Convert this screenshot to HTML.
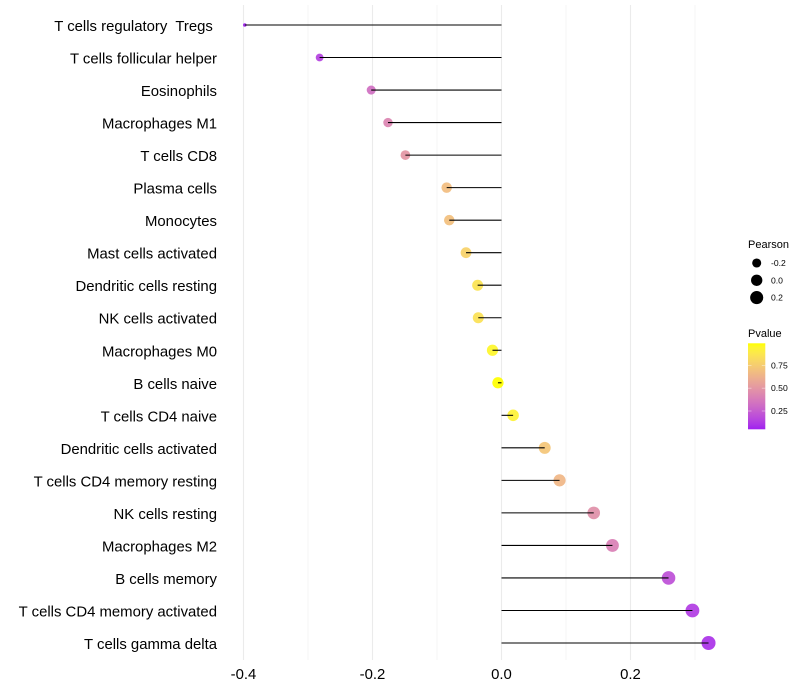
<!DOCTYPE html>
<html>
<head>
<meta charset="utf-8">
<style>
html,body{margin:0;padding:0;background:#fff;width:800px;height:700px;overflow:hidden}
svg{display:block}
text{font-family:"Liberation Sans",sans-serif;white-space:pre}
</style>
</head>
<body>
<svg id="chart" width="800" height="700" viewBox="0 0 800 700" xmlns="http://www.w3.org/2000/svg"></svg>
<script>
const categories = ["T cells regulatory  Tregs ","T cells follicular helper","Eosinophils","Macrophages M1","T cells CD8","Plasma cells","Monocytes","Mast cells activated","Dendritic cells resting","NK cells activated","Macrophages M0","B cells naive","T cells CD4 naive","Dendritic cells activated","T cells CD4 memory resting","NK cells resting","Macrophages M2","B cells memory","T cells CD4 memory activated","T cells gamma delta"];
const pearson = [-0.398,-0.282,-0.202,-0.176,-0.149,-0.085,-0.081,-0.055,-0.037,-0.036,-0.014,-0.0055,0.018,0.067,0.09,0.143,0.172,0.259,0.296,0.321];
const pvalue = [0.05,0.15,0.33,0.42,0.5,0.68,0.69,0.78,0.86,0.85,0.95,0.99,0.93,0.72,0.65,0.47,0.4,0.2,0.13,0.1];
const xMajorTicks = [-0.4,-0.2,0.0,0.2];
const xMinorTicks = [-0.3,-0.1,0.1,0.3];
const sizeLegendValues = [-0.2,0.0,0.2];
const colorLegendValues = [0.25,0.5,0.75];

const svg = document.getElementById('chart');
const NS = 'http://www.w3.org/2000/svg';
function mk(tag, attrs, parent, txt){
  const e = document.createElementNS(NS, tag);
  for (const k in attrs) e.setAttribute(k, attrs[k]);
  if (txt !== undefined) e.textContent = txt;
  (parent || svg).appendChild(e);
  return e;
}
const xScale = v => 501.5 + v * 645;
const yScale = i => 25 + i * (643 - 25) / (categories.length - 1);
const minP = Math.min(...pearson), maxP = Math.max(...pearson);
const rScale = v => 1.8 + 5.2 * Math.sqrt((v - minP) / (maxP - minP));
const minV = 0.05, maxV = 0.99;

function srgb2lab(c){
  const l = c.map(u => { u /= 255; return u > 0.04045 ? Math.pow((u + 0.055) / 1.055, 2.4) : u / 12.92; });
  const X = (0.4124 * l[0] + 0.3576 * l[1] + 0.1805 * l[2]) / 0.95047;
  const Y = 0.2126 * l[0] + 0.7152 * l[1] + 0.0722 * l[2];
  const Z = (0.0193 * l[0] + 0.1192 * l[1] + 0.9505 * l[2]) / 1.08883;
  const f = t => t > 0.008856 ? Math.cbrt(t) : 7.787 * t + 16 / 116;
  return [116 * f(Y) - 16, 500 * (f(X) - f(Y)), 200 * (f(Y) - f(Z))];
}
function lab2css(L, a, b){
  const fy = (L + 16) / 116, fx = fy + a / 500, fz = fy - b / 200;
  const g = t => t * t * t > 0.008856 ? t * t * t : (t - 16 / 116) / 7.787;
  const X = 0.95047 * g(fx), Y = g(fy), Z = 1.08883 * g(fz);
  const lin = [3.2406 * X - 1.5372 * Y - 0.4986 * Z, -0.9689 * X + 1.8758 * Y + 0.0415 * Z, 0.0557 * X - 0.204 * Y + 1.057 * Z];
  const out = lin.map(u => { u = Math.max(0, Math.min(1, u)); const s = u > 0.0031308 ? 1.055 * Math.pow(u, 1 / 2.4) - 0.055 : 12.92 * u; return Math.round(s * 255); });
  return 'rgb(' + out.join(',') + ')';
}
const labLow = srgb2lab([160, 32, 240]), labHigh = srgb2lab([255, 255, 0]);
function colorScale(v){
  const t = Math.max(0, Math.min(1, (v - minV) / (maxV - minV)));
  return lab2css(labLow[0] + t * (labHigh[0] - labLow[0]), labLow[1] + t * (labHigh[1] - labLow[1]), labLow[2] + t * (labHigh[2] - labLow[2]));
}

const PANEL_TOP = 5, PANEL_BOTTOM = 660;

const grid = mk('g', {});


xMinorTicks.forEach(v => {
  const l = mk('line', {x1: xScale(v), x2: xScale(v), y1: PANEL_TOP, y2: PANEL_BOTTOM, stroke: '#ebebeb', 'stroke-width': 0.55}, grid);
  
  
});
xMajorTicks.forEach(v => {
  const l = mk('line', {x1: xScale(v), x2: xScale(v), y1: PANEL_TOP, y2: PANEL_BOTTOM, stroke: '#ebebeb', 'stroke-width': 1.07}, grid);
  
  
});

const dots = mk('g', {});


categories.forEach((c, i) => {
  const d = mk('circle', {cx: xScale(pearson[i]), cy: yScale(i), r: rScale(pearson[i]), fill: colorScale(pvalue[i]), 'fill-opacity': 0.93}, dots);
  
  
});

const stems = mk('g', {});


categories.forEach((c, i) => {
  const s = mk('line', {x1: xScale(0), x2: xScale(pearson[i]), y1: yScale(i), y2: yScale(i), stroke: '#000', 'stroke-width': 1.07}, stems);
  
  
});

const yAxis = mk('g', {});


categories.forEach((c, i) => {
  const t = mk('text', {x: 217, y: yScale(i) + 6, 'text-anchor': 'end', 'font-size': 14.9, fill: '#000', 'xml:space': 'preserve'}, yAxis, c);
  
  
});

const xAxis = mk('g', {});


xMajorTicks.forEach(v => {
  const t = mk('text', {x: xScale(v), y: 679, 'text-anchor': 'middle', 'font-size': 14.9, fill: '#000'}, xAxis, v.toFixed(1));
  
  
});

const sizeLegend = mk('g', {});


const sizeTitle = mk('text', {x: 748, y: 248, 'font-size': 11, fill: '#000'}, sizeLegend, 'Pearson');


sizeLegendValues.forEach((v, i) => {
  const cy = 263 + i * 17.3;
  const k = mk('circle', {cx: 756.7, cy: cy, r: rScale(v), fill: '#000'}, sizeLegend);
  
  
  const t = mk('text', {x: 771, y: cy + 3, 'font-size': 8.6, fill: '#000'}, sizeLegend, v.toFixed(1));
  
  
});

const BAR_TOP = 343.3, BAR_BOTTOM = 429.3;
const colorY = v => BAR_BOTTOM - (v - minV) / (maxV - minV) * (BAR_BOTTOM - BAR_TOP);
const defs = mk('defs', {});
const grad = mk('linearGradient', {id: 'pvalue-gradient', x1: 0, y1: 1, x2: 0, y2: 0}, defs);
for (let s = 0; s <= 20; s++) {
  mk('stop', {offset: s / 20, 'stop-color': colorScale(minV + (maxV - minV) * s / 20)}, grad);
}
const colorLegend = mk('g', {});


const colorTitle = mk('text', {x: 748, y: 337, 'font-size': 11, fill: '#000'}, colorLegend, 'Pvalue');


const bar = mk('rect', {x: 748, y: BAR_TOP, width: 17.3, height: BAR_BOTTOM - BAR_TOP, fill: 'url(#pvalue-gradient)'}, colorLegend);


colorLegendValues.forEach(v => {
  const y = colorY(v);
  const a = mk('line', {x1: 748, x2: 751.5, y1: y, y2: y, stroke: '#fff', 'stroke-width': 0.5, 'stroke-opacity': 0.8}, colorLegend);
  
  
  const b = mk('line', {x1: 761.8, x2: 765.3, y1: y, y2: y, stroke: '#fff', 'stroke-width': 0.5, 'stroke-opacity': 0.8}, colorLegend);
  
  
  const t = mk('text', {x: 771, y: y + 3, 'font-size': 8.6, fill: '#000'}, colorLegend, v.toFixed(2));
  
  
});
</script>
</body>
</html>
